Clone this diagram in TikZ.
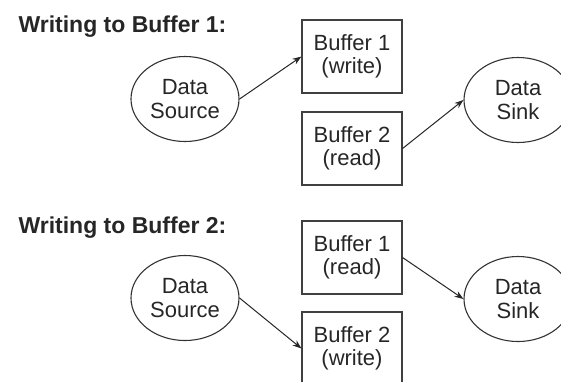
\documentclass[tikz,border=0pt]{standalone}
\usepackage{fontspec}
\setmainfont{Liberation Sans}
\usetikzlibrary{shapes.geometric,arrows.meta}
\tikzset{
  blk/.style={draw=black!75, line width=1.1pt, rectangle, minimum width=100pt, minimum height=73pt, inner sep=0pt, align=center},
  oval/.style={draw=black!80, line width=1.1pt, ellipse, minimum width=108pt, minimum height=85pt, inner sep=0pt, align=center},
  link/.style={-{Stealth[length=9pt,width=6.5pt]}, line width=1pt, black!85},
  heading/.style={anchor=base west, font=\bfseries\fontsize{23}{26}\selectfont}
}
\begin{document}
\begin{tikzpicture}[x=1pt, y=-1pt, font=\fontsize{22}{23.5}\selectfont, text=black!85]
\useasboundingbox (0,0) rectangle (561,381);
\clip (0,0) rectangle (561,381);
% writing to buffer 1
\node[heading] (T_1) at (15,32) {Writing to Buffer 1:};
\node[oval] (S_1) at (185,99) {Data\\Source};
\node[blk] (B_1_1) at (352,56.5) {Buffer 1\\(write)};
\node[blk] (B_2_1) at (352,148.5) {Buffer 2\\(read)};
\node[oval] (K_1) at (518,100) {Data\\Sink};
\draw[link] (S_1.east) -- (B_1_1.west);
\draw[link] (B_2_1.east) -- (K_1.west);
% writing to buffer 2
\node[heading] (T_2) at (15,233) {Writing to Buffer 2:};
\node[oval] (S_2) at (185,298) {Data\\Source};
\node[blk] (B_1_2) at (352,257.5) {Buffer 1\\(read)};
\node[blk] (B_2_2) at (352,348.5) {Buffer 2\\(write)};
\node[oval] (K_2) at (518,299) {Data\\Sink};
\draw[link] (S_2.east) -- (B_2_2.west);
\draw[link] (B_1_2.east) -- (K_2.west);
\end{tikzpicture}
\end{document}
